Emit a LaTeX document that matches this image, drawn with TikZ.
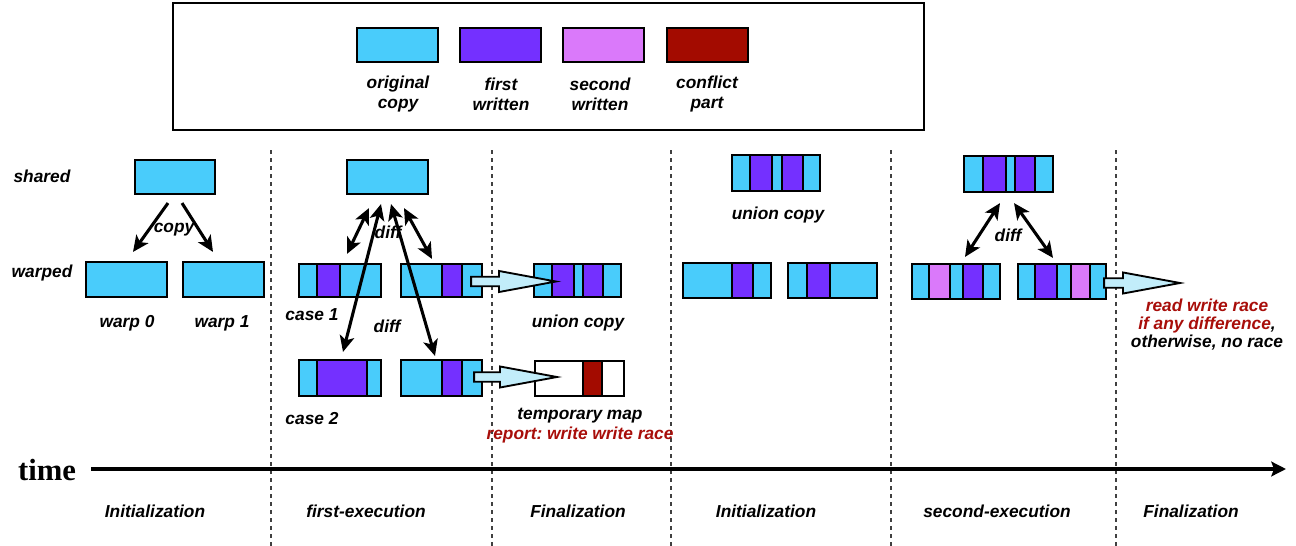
\documentclass[tikz,border=0pt]{standalone}
\usepackage{fontspec}
\setsansfont{Liberation Sans}
\newfontfamily\timefont{Liberation Serif}
\usetikzlibrary{arrows.meta,calc,fit}
\frenchspacing

\definecolor{origcyan}{HTML}{49CCFB}
\definecolor{firstpurple}{HTML}{7430FF}
\definecolor{secondpink}{HTML}{DA79FA}
\definecolor{conflictred}{HTML}{A30B00}
\definecolor{arrowfill}{HTML}{C2EDFA}
\definecolor{racered}{HTML}{A80E0A}

\tikzset{
  lbl/.style={font=\sffamily\bfseries\itshape\fontsize{13}{15}\selectfont, inner sep=0pt, text height=9.4pt, text depth=2.7pt},
  lgtxt/.style={font=\sffamily\bfseries\itshape\fontsize{13}{15}\selectfont, inner sep=0pt, align=center},
  segline/.style={draw, line width=1.6pt},
  boxframe/.style={draw, line width=1.6pt, inner sep=0pt},
  divider/.style={draw=black!75, line width=1.1pt, dash pattern=on 3pt off 3pt},
  copyarrow/.style={-{Stealth[length=12pt,width=11pt,inset=3pt]}, line width=2.3pt},
  diffarrow/.style={{Stealth[length=12pt,width=11pt,inset=3pt]}-{Stealth[length=12pt,width=11pt,inset=3pt]}, line width=2.3pt},
  fatarrowline/.style={draw, fill=arrowfill, line width=1.4pt, line join=miter},
  timeline/.style={-{Stealth[length=11pt,width=11pt,inset=2pt]}, line width=3pt},
}

% box made of coloured slices: name, left, right, top, bottom, cuts x/colour
\newcommand{\segbox}[6]{%
  \foreach \xb/\col [remember=\xb as \xa (initially #2)] in {#6}
    \draw[segline, fill=\col] (\xa,#4) rectangle (\xb,#5);
  \node[boxframe, fit={(#2,#4) (#3,#5)}] (#1) {};}

% hollow block arrow: start, tip
\newcommand{\fatarrow}[2]{%
  \draw[fatarrowline] let \p1=(#1), \p2=(#2) in
    (\x1,\y1+3.6pt) -- (\x2-42.75pt,\y1+3.6pt) -- (\x2-42.75pt,\y1+7.9pt)
    -- (\x2,\y1) -- (\x2-42.75pt,\y1-7.9pt) -- (\x2-42.75pt,\y1-3.6pt)
    -- (\x1,\y1-3.6pt) -- cycle;}

\begin{document}
\begin{tikzpicture}[x=0.75pt, y=-0.75pt]
  \useasboundingbox (0,0) rectangle (1296,546);

  % Legend
  \draw[line width=1.8pt] (173,3) rectangle (924,130);
  \segbox{lgorig}{357}{438}{28}{62}{438/origcyan}
  \segbox{lgfirst}{460}{541}{28}{62}{541/firstpurple}
  \segbox{lgsecond}{563}{644}{28}{62}{644/secondpink}
  \segbox{lgconf}{667}{748}{28}{62}{748/conflictred}
  \node[lgtxt] (lgorigtxt) at (398,94) {original\\copy};
  \node[lgtxt] (lgfirsttxt) at (501,94) {first\\written};
  \node[lgtxt] (lgsecondtxt) at (600,94) {second\\written};
  \node[lgtxt] (lgconftxt) at (707,94) {conflict\\part};

  % Phase dividers
  \foreach \xd in {271,492,671,891,1116}
    \draw[divider] (\xd,150) -- (\xd,546);

  % Row names
  \node[lbl] (sharedtxt) at (42,178) {shared};
  \node[lbl] (warpedtxt) at (42,273) {warped};

  % Initialization
  \segbox{sh1}{135}{215}{160}{194}{215/origcyan}
  \segbox{w0}{86}{167}{262}{297}{167/origcyan}
  \segbox{w1}{183}{264}{262}{297}{264/origcyan}
  \node[lbl] (copytxt) at (174,228) {copy};
  \draw[copyarrow] ($(sh1.south)+(-7,8)$) -- ($(w0.north)+(6.5,-9)$);
  \draw[copyarrow] ($(sh1.south)+(7,8)$) -- ($(w1.north)+(-10.5,-9)$);
  \node[lbl] (w0txt) at (127,323) {warp 0};
  \node[lbl] (w1txt) at (222,323) {warp 1};

  % first-execution
  \segbox{sh2}{347}{428}{160}{194}{428/origcyan}
  \segbox{c1a}{299}{381}{264}{297}{317/origcyan,340/firstpurple,381/origcyan}
  \segbox{c1b}{401}{482}{264}{297}{442/origcyan,462/firstpurple,482/origcyan}
  \segbox{c2a}{299}{381}{360}{396}{317/origcyan,367/firstpurple,381/origcyan}
  \segbox{c2b}{401}{482}{360}{396}{442/origcyan,462/firstpurple,482/origcyan}
  \node[lbl] (difftxt1) at (388,234) {diff};
  \node[lbl] (difftxt2) at (387,328) {diff};
  \draw[diffarrow] ($(sh2.south)+(-18.5,13)$) -- ($(c1a.north)+(7,-9)$);
  \draw[diffarrow] ($(sh2.south)+(-6.5,9)$) -- ($(c2a.north)+(3,-7)$);
  \draw[diffarrow] ($(sh2.south)+(3.5,9)$) -- ($(c2b.north)+(-6.5,-3)$);
  \draw[diffarrow] ($(sh2.south)+(16.5,13)$) -- ($(c1b.north)+(-9.5,-4)$);
  \node[lbl] (case1txt) at (312,316) {case 1};
  \node[lbl] (case2txt) at (312,420) {case 2};

  % Finalization
  \segbox{u1}{534}{621}{264}{297}{552/origcyan,574/firstpurple,583/origcyan,603/firstpurple,621/origcyan}
  \segbox{tm1}{535}{624}{361}{396}{583/white,602/conflictred,624/white}
  \fatarrow{$(c1b.east)+(-12,1)$}{$(u1.west)+(23,1)$}
  \fatarrow{$(c2b.east)+(-9,-1)$}{$(tm1.west)+(23,-1.5)$}
  \node[lbl] (u1txt) at (578,323) {union copy};
  \node[lbl] (tm1txt) at (580,415) {temporary map};
  \node[lbl, text=racered] (wwtxt) at (580,435) {report: write write race};

  % Initialization (second run)
  \segbox{u2}{732}{820}{155}{191}{750/origcyan,772/firstpurple,782/origcyan,803/firstpurple,820/origcyan}
  \node[lbl] (u2txt) at (778,215) {union copy};
  \segbox{b4a}{683}{771}{263}{298}{732/origcyan,753/firstpurple,771/origcyan}
  \segbox{b4b}{788}{877}{263}{298}{807/origcyan,830/firstpurple,877/origcyan}

  % second-execution
  \segbox{sh3}{964}{1053}{156}{192}{983/origcyan,1006/firstpurple,1015/origcyan,1035/firstpurple,1053/origcyan}
  \segbox{b5a}{912}{1000}{264}{299}{929/origcyan,950/secondpink,963/origcyan,983/firstpurple,1000/origcyan}
  \segbox{b5b}{1018}{1106}{264}{299}{1035/origcyan,1057/firstpurple,1071/origcyan,1090/secondpink,1106/origcyan}
  \node[lbl] (difftxt3) at (1008,237) {diff};
  \draw[diffarrow] ($(sh3.south)+(-8.5,10)$) -- ($(b5a.north)+(9,-6)$);
  \draw[diffarrow] ($(sh3.south)+(5.5,10)$) -- ($(b5b.north)+(-9,-5)$);
  \coordinate (rwtip) at (1180,283);
  \fatarrow{$(b5b.east)+(-3,1.5)$}{rwtip}
  \node[lbl, text=racered] (rwtxt) at (1207,307) {read write race};
  \node[lbl] (anytxt) at (1207,325) {\textcolor{racered}{if any difference},};
  \node[lbl] (noracetxt) at (1207,343) {otherwise, no race};

  % Time axis
  \node[inner sep=0pt, font=\timefont\bfseries\fontsize{23}{26}\selectfont] (time) at (47,470) {time};
  \coordinate (tend) at (1286,469);
  \draw[timeline] ($(time.east)+(15,-1)$) -- (tend);

  % Phase names
  \foreach \xc/\txt [count=\i] in {155/Initialization,366/first-execution,578/Finalization,766/Initialization,997/second-execution,1191/Finalization}
    \node[lbl] (phase\i) at (\xc,513) {\txt};
\end{tikzpicture}
\end{document}
